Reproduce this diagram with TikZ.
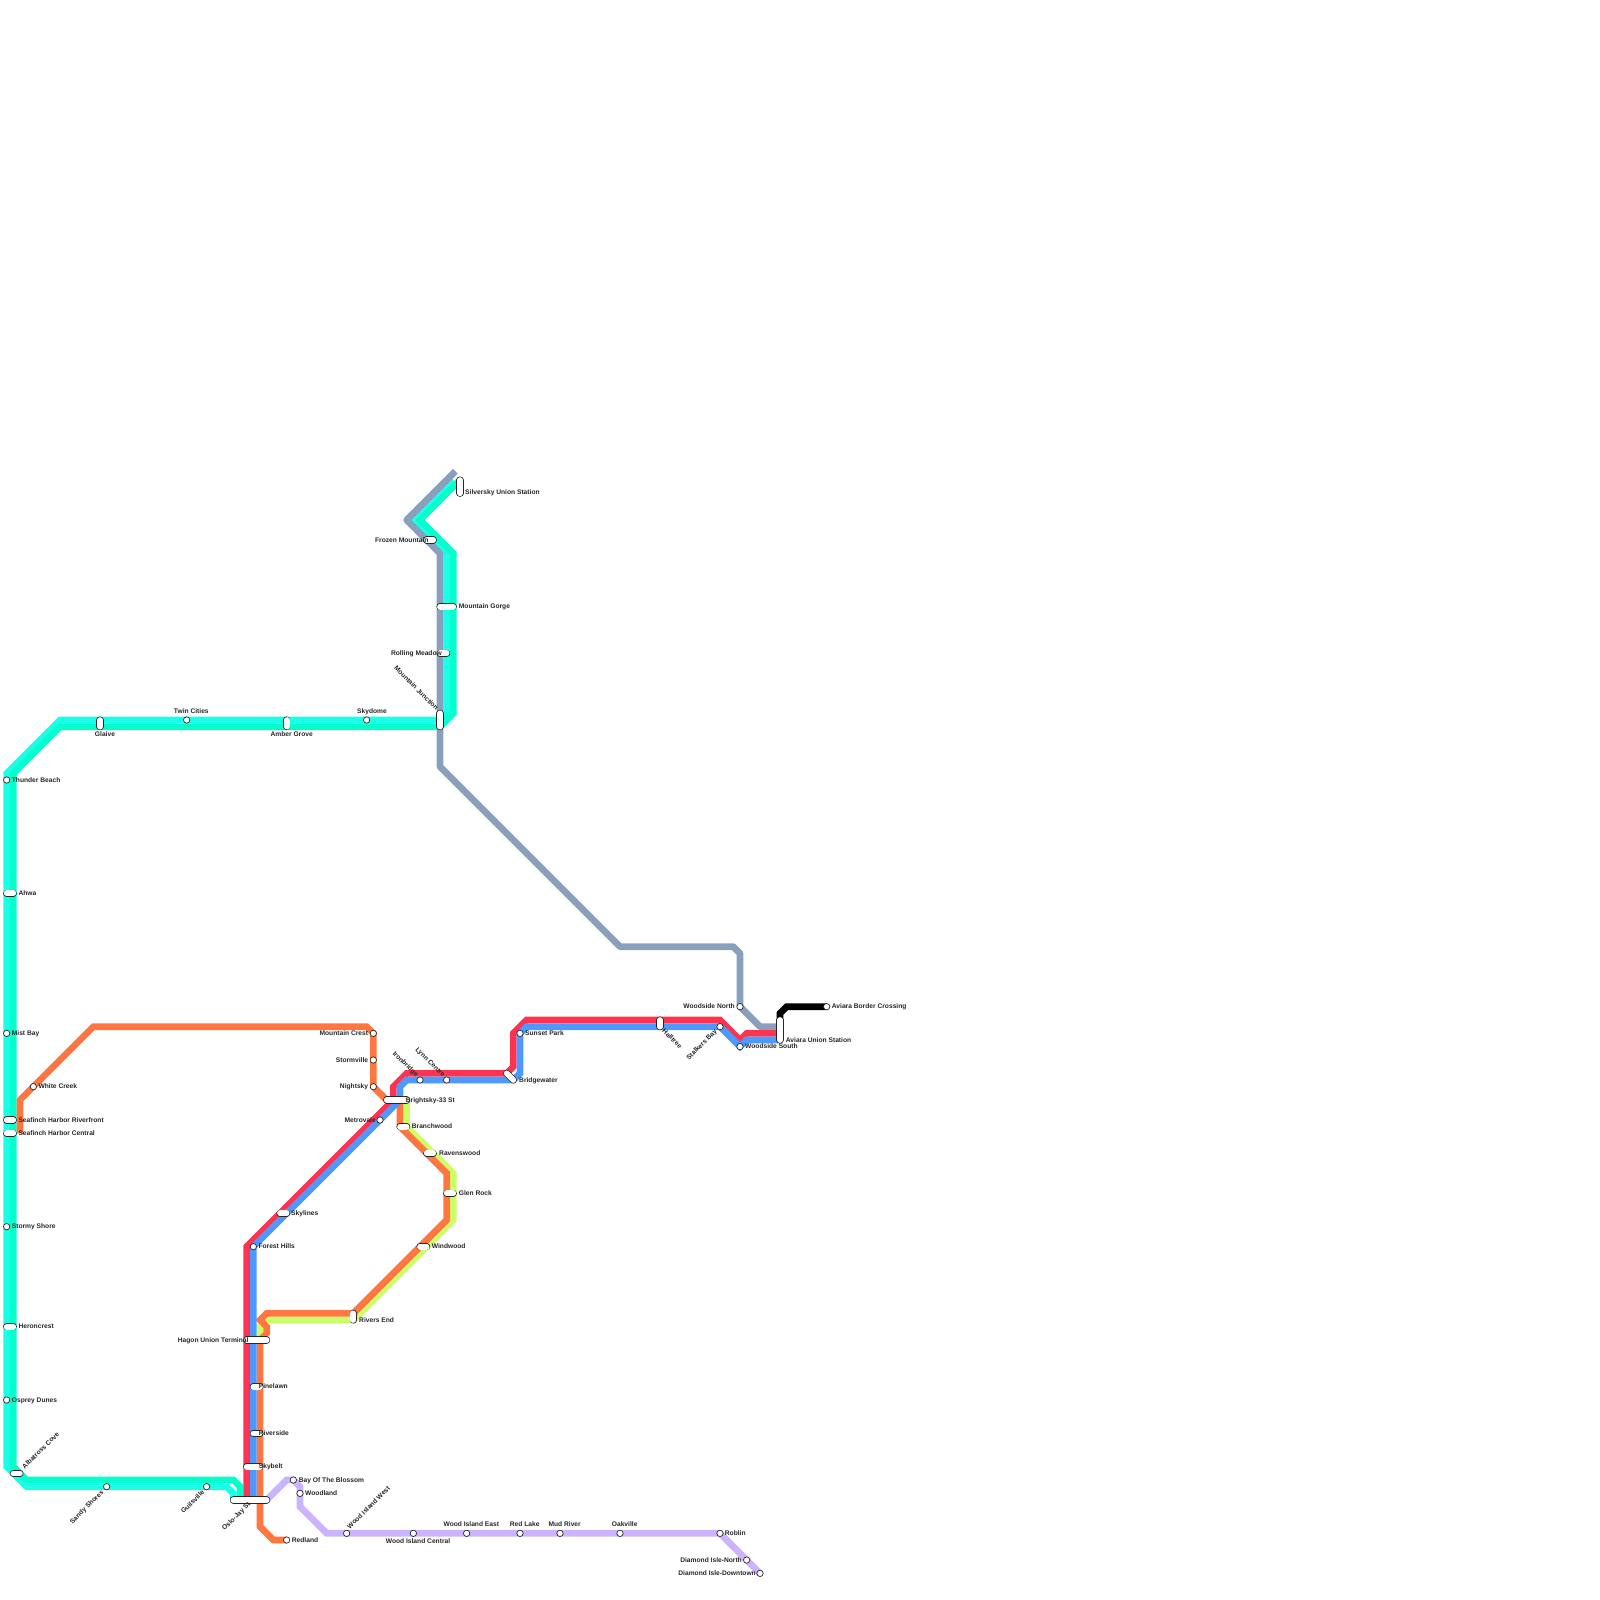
\documentclass[tikz,border=0pt]{standalone}
\usepackage{fontspec}
\setmainfont{Liberation Sans}
\definecolor{lineCyan}{HTML}{1AFFE8}
\definecolor{lineGreen}{HTML}{05FFCC}
\definecolor{lineGray}{HTML}{88A0BC}
\definecolor{lineRed}{HTML}{FF3350}
\definecolor{lineBlue}{HTML}{4D99FF}
\definecolor{lineOrange}{HTML}{FF7640}
\definecolor{lineLime}{HTML}{CCFF66}
\definecolor{linePurple}{HTML}{CCB3FF}
\tikzset{
	route/.style={line width=6.667pt, line join=miter},
	stop/.style={circle, draw=black!85, line width=.7pt, fill=white, inner sep=0pt, minimum size=6.4pt},
	hub/.style={line cap=round, draw=black!85, line width=.7pt, double=white, double distance=5.7pt},
	lbl/.style={font=\fontsize{6.667}{7}\selectfont\bfseries, text=black!85, inner sep=0pt, text height=4.2pt, text depth=0pt}
}
\begin{document}
\begin{tikzpicture}[x=6.6667pt, y=-6.6667pt]
	\useasboundingbox (0,0) rectangle (240,240);
	% routes
	\draw [route, lineCyan] (68,72) -- (62,78) -- (67,83) -- (67,107) -- (66,108) -- (9,108) -- (1,116) -- (1,220) -- (4,223) -- (34,223) -- (35,224) -- (35,225);
	\draw [route, lineGreen] (69,72) -- (63,78) -- (68,83) -- (68,107) -- (66,109) -- (9,109) -- (2,116) -- (2,220) -- (4,222) -- (35,222) -- (36,223) -- (36,225);
	\draw [route, lineGray, line join=round] (68.3,70.7) -- (61,78) -- (66,83) -- (66,115) -- (93,142) -- (110,142) -- (111,143) -- (111,151) -- (114,154) -- (117,154);
	\draw [route, lineLime] (61,165) -- (61,169) -- (68,176) -- (68,183) -- (53,198) -- (40,198) -- (39,199) -- (39,201);
	\draw [route, lineOrange] (3,170) -- (3,165) -- (14,154) -- (55,154) -- (56,155) -- (56,163) -- (58,165) -- (60,165) -- (60,169) -- (67,176) -- (67,183) -- (53,197) -- (40,197) -- (39,198) -- (40,199) -- (40,200) -- (39,201) -- (39,229) -- (41,231) -- (43,231);
	\draw [route, lineRed] (37,225) -- (37,187) -- (59,165) -- (59,163) -- (61,161) -- (76,161) -- (77,160) -- (77,155) -- (79,153) -- (108,153) -- (111,156) -- (112,155) -- (117,155);
	\draw [route, lineBlue] (38,225) -- (38,187) -- (60,165) -- (60,163) -- (61,162) -- (77,162) -- (78,161) -- (78,155) -- (79,154) -- (108,154) -- (111,157) -- (112,156) -- (117,156);
	\draw [route, linePurple] (40,225) -- (43,222) -- (44,222) -- (45,223) -- (45,226) -- (49,230) -- (108,230) -- (114,236);
	\draw [route, black] (117,153) -- (117,152) -- (118,151) -- (124,151);
	% long stations
	\foreach \nm/\xa/\ya/\xb/\yb in {silversky/69/72/69/74, frozen/64/81/65/81, gorge/66/91/68/91, rolling/66/98/67/98, junction/66/107/66/109,
		glaive/15/108/15/109, amber/43/108/43/109, ahwa/1/134/2/134, riverfront/1/168/2/168, central/1/170/2/170, heron/1/199/2/199,
		albatross/2/221/3/221, oslo/35/225/40/225, skybelt/37/220/39/220, riverside/38/215/39/215, pinelawn/38/208/39/208, hagon/37/201/40/201,
		rivers/53/197/53/198, skylines/42/182/43/182, windwood/63/187/64/187, glen/67/179/68/179, ravens/64/173/65/173, branch/60/169/61/169,
		brightsky/58/165/61/165, bridge/76/161/77/162, halltree/99/153/99/154, aviara/117/153/117/156}{
		\coordinate (\nm a) at (\xa,\ya);
		\coordinate (\nm b) at (\xb,\yb);
		\draw [hub] (\nm a) -- (\nm b);
	}
	% round stations
	\foreach \nm/\xa/\ya in {thunder/1/117, mist/1/155, stormy/1/184, osprey/1/210, white/5/163, sandy/16/223, guils/31/223,
		twin/28/108, skydome/55/108, mcrest/56/155, stormv/56/159, nightsky/56/163, metrovale/57/168, iron/63/162, lynn/67/162,
		sunset/78/155, forest/38/187, bay/44/222, woodland/45/224, redland/43/231, wiwest/52/230, wicentral/62/230, wieast/70/230,
		redlake/78/230, mud/84/230, oak/93/230, roblin/108/230, dnorth/112/234, ddown/114/236, stalkers/108/154, wnorth/111/151,
		wsouth/111/157, border/124/151}{
		\node [stop] (\nm) at (\xa,\ya) {};
	}
	% labels right
	\foreach \nm/\xa/\ya/\txt in {thunder/1.75/117/Thunder Beach, ahwa/2.75/134/Ahwa, mist/1.75/155/Mist Bay, riverfront/2.75/168/Seafinch Harbor Riverfront,
		central/2.75/170/Seafinch Harbor Central, white/5.75/163/White Creek, stormy/1.75/184/Stormy Shore, heron/2.75/199/Heroncrest, osprey/1.75/210/Osprey Dunes,
		silversky/69.75/73.9/Silversky Union Station, gorge/68.8/91/Mountain Gorge, brightsky/60.85/165/Brightsky-33 St, bridge/77.85/162/Bridgewater,
		sunset/78.75/155/Sunset Park, branch/61.75/169/Branchwood, ravens/65.85/173/Ravenswood, glen/68.8/179/Glen Rock, windwood/64.75/187/Windwood,
		rivers/53.85/198/Rivers End, skylines/43.65/182/Skylines, forest/38.75/187/Forest Hills, pinelawn/38.8/208/Pinelawn, riverside/38.8/215/Riverside,
		skybelt/38.8/220/Skybelt, bay/44.8/222/Bay Of The Blossom, woodland/45.75/224/Woodland, redland/43.75/231/Redland, roblin/108.7/230/Roblin,
		wsouth/111.75/157/Woodside South, aviara/117.85/156/Aviara Union Station, border/124.75/151/Aviara Border Crossing}{
		\node [lbl, anchor=west] (\nm-l) at (\xa,\ya) {\txt};
	}
	% labels left
	\foreach \nm/\xa/\ya/\txt in {frozen/64.3/81/Frozen Mountain, rolling/66.3/98/Rolling Meadow, hagon/37.3/201/Hagon Union Terminal, mcrest/55.25/155/Mountain Crest,
		stormv/55.25/159/Stormville, nightsky/55.25/163/Nightsky, metrovale/56.4/168/Metrovale, wnorth/110.25/151/Woodside North,
		dnorth/111.3/234/Diamond Isle-North, ddown/113.4/236/Diamond Isle-Downtown}{
		\node [lbl, anchor=east] (\nm-l) at (\xa,\ya) {\txt};
	}
	% labels above and below
	\foreach \nm/\xa/\ya/\txt in {skydome/55.8/106.7/Skydome, twin/28.7/106.7/Twin Cities, glaive/15.75/110.2/Glaive, amber/43.75/110.2/Amber Grove,
		wicentral/62.7/231.2/Wood Island Central, wieast/70.7/228.7/Wood Island East, redlake/78.7/228.7/Red Lake, mud/84.7/228.7/Mud River, oak/93.7/228.7/Oakville}{
		\node [lbl] (\nm-l) at (\xa,\ya) {\txt};
	}
	% labels at an angle
	\node [lbl, anchor=west, rotate=45] (albatross-l) at (3.5,220.2) {Albatross Cove};
	\node [lbl, anchor=west, rotate=45] (wiwest-l) at (52.25,229.2) {Wood Island West};
	\node [lbl, anchor=east, rotate=45] (sandy-l) at (15.4,223.7) {Sandy Shores};
	\node [lbl, anchor=east, rotate=45] (guils-l) at (30.5,223.7) {Guilsville};
	\node [lbl, anchor=east, rotate=45] (oslo-l) at (37.4,225.5) {Oslo-Jay St};
	\node [lbl, anchor=east, rotate=45] (stalkers-l) at (107.4,154.55) {Stalkers Bay};
	\node [lbl, anchor=east, rotate=-45] (junction-l) at (65.6,106.4) {Mountain Junction};
	\node [lbl, anchor=east, rotate=-45] (iron-l) at (62.6,161.4) {Ironbridge};
	\node [lbl, anchor=east, rotate=-45] (lynn-l) at (66.6,161.4) {Lynn Centre};
	\node [lbl, anchor=west, rotate=-45] (halltree-l) at (99.5,154.5) {Halltree};
\end{tikzpicture}
\end{document}
